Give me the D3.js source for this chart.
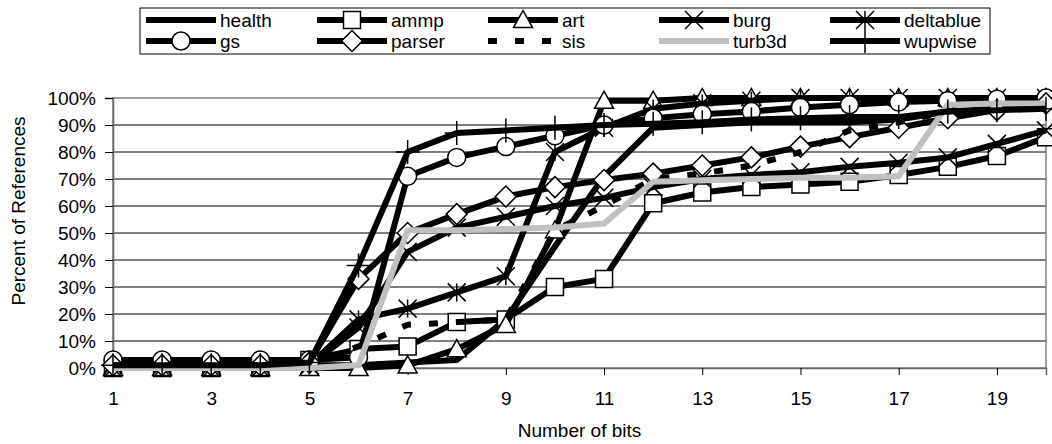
<!DOCTYPE html>
<html>
<head>
<meta charset="utf-8">
<script src="https://cdn.jsdelivr.net/npm/d3@7"></script>
<style>
  body { margin: 0; background: #fff; }
  svg { display: block; font-family: "Liberation Sans", Arial, sans-serif; }
</style>
</head>
<body>
<svg id="chart" width="1052" height="444"></svg>
<script>
// number of bits (x categories)
var bits = [1, 2, 3, 4, 5, 6, 7, 8, 9, 10, 11, 12, 13, 14, 15, 16, 17, 18, 19, 20];
var xTickLabels = [1, 3, 5, 7, 9, 11, 13, 15, 17, 19];
var yTicks = [0, 10, 20, 30, 40, 50, 60, 70, 80, 90, 100];

// percent of references
var health   = [1, 1, 1, 1, 1, 1, 2, 3, 18, 45, 71, 89, 90, 91, 91, 91, 92, 95, 96, 97];
var ammp     = [0, 0, 0, 0, 3, 7, 8, 17, 18, 30, 33, 61, 65, 67, 68, 69, 71.5, 74.5, 78.5, 85.5];
var art      = [0, 0, 0, 0, 0, 0, 1, 7, 16, 51, 99, 99, 100, 100, 100, 100, 100, 100, 100, 100];
var burg     = [0, 0, 0, 0, 1, 15, 43, 52, 56, 60, 63, 67, 70, 71.5, 72.5, 74.5, 76, 78, 83, 88];
var deltablue= [1, 1, 1, 1, 1, 18, 22, 28, 34, 80, 89, 96, 98, 99, 100, 100, 100, 100, 100, 100];
var gs       = [3, 3, 3, 3, 3, 4, 71, 78, 82, 86, 90, 92.5, 94, 95, 96.5, 97.5, 98.5, 99, 99.5, 100];
var parser   = [1, 1, 1, 1, 2, 33, 50, 57, 63.5, 67, 69.6, 72, 75, 78, 82, 85.5, 89, 92.5, 95.5, 98];
var sis      = [1, 1, 1, 1, 1, 8, 16, 17, 18, 51, 60, 70, 72, 75, 80, 88, 91, 95, 97, 98];
var turb3d   = [0, 0, 0, 0, 0, 1, 51, 51, 51.5, 52, 53.5, 69, 69.5, 70, 70.5, 70.5, 71, 97.5, 98, 98];
var wupwise  = [1, 1, 1, 1, 2, 38, 80, 87, 88, 89, 90, 90.5, 91, 92, 92.5, 93, 93, 95, 95.5, 96];

var seriesNames = ["health", "ammp", "art", "burg", "deltablue", "gs", "parser", "sis", "turb3d", "wupwise"];
var seriesValues = [health, ammp, art, burg, deltablue, gs, parser, sis, turb3d, wupwise];
var seriesMarker = ["none", "square", "triangle", "x", "star", "circle", "diamond", "none", "none", "plus"];
var seriesColor = ["#000", "#000", "#000", "#000", "#000", "#000", "#000", "#000", "#c0c0c0", "#000"];
var seriesDash = [null, null, null, null, null, null, null, "9,18", null, null];

var svg = d3.select("#chart");
var plotL = 113, plotR = 1046, plotT = 98, plotB = 368;
var fontSize = 19;

var x = d3.scaleLinear().domain([1, 20]).range([plotL, plotR]);
var y = d3.scaleLinear().domain([0, 100]).range([plotB, plotT]);

// gridlines
svg.append("g").selectAll("line")
    .data(yTicks.filter(function(d){ return d > 0 && d < 100; }))
    .enter().append("line")
    .attr("x1", plotL).attr("x2", plotR)
    .attr("y1", function(d){ return y(d); }).attr("y2", function(d){ return y(d); })
    .attr("stroke", "#000").attr("stroke-width", 1);

// plot border
svg.append("rect")
    .attr("x", plotL).attr("y", plotT)
    .attr("width", plotR - plotL).attr("height", plotB - plotT)
    .attr("fill", "none").attr("stroke", "#808080").attr("stroke-width", 1.5);

// y axis
var yAxis = d3.axisLeft(y).tickValues(yTicks).tickFormat(function(d){ return d + "%"; })
    .tickSize(8).tickPadding(9);
var gy = svg.append("g").attr("transform", "translate(" + plotL + ",0)").call(yAxis);
gy.select(".domain").attr("stroke", "#666").attr("stroke-width", 1.5);
gy.selectAll(".tick line").attr("stroke", "#000");
gy.selectAll("text").attr("font-size", fontSize).attr("fill", "#000").attr("font-family", "Liberation Sans, Arial");

// x axis
var xAxis = d3.axisBottom(x).tickValues(xTickLabels).tickFormat(d3.format("d"))
    .tickSize(7).tickPadding(17);
var gx = svg.append("g").attr("transform", "translate(0," + plotB + ")").call(xAxis);
gx.select(".domain").attr("stroke", "#666").attr("stroke-width", 1.5);
gx.selectAll(".tick line").attr("stroke", "#000");
gx.selectAll("text").attr("font-size", fontSize).attr("fill", "#000").attr("font-family", "Liberation Sans, Arial");

// axis titles
svg.append("text")
    .attr("transform", "translate(25,211) rotate(-90)")
    .attr("text-anchor", "middle").attr("font-size", fontSize)
    .text("Percent of References");
svg.append("text")
    .attr("x", (plotL + plotR) / 2).attr("y", 437)
    .attr("text-anchor", "middle").attr("font-size", fontSize)
    .text("Number of bits");

function markerPath(type, h) {
    if (type == "square") return "M" + (-h) + "," + (-h) + "H" + h + "V" + h + "H" + (-h) + "Z";
    if (type == "triangle") return "M0," + (-h) + "L" + h + "," + (h * 0.8) + "L" + (-h) + "," + (h * 0.8) + "Z";
    if (type == "diamond") return "M0," + (-h) + "L" + h + ",0L0," + h + "L" + (-h) + ",0Z";
    if (type == "x") return "M" + (-h) + "," + (-h) + "L" + h + "," + h + "M" + (-h) + "," + h + "L" + h + "," + (-h);
    if (type == "star") return "M" + (-h) + "," + (-h) + "L" + h + "," + h + "M" + (-h) + "," + h + "L" + h + "," + (-h) + "M0," + (-h) + "L0," + h;
    if (type == "plus") return "M" + (-h) + ",0L" + h + ",0M0," + (-h) + "L0," + h;
    return "";
}
var markerHalf = {square: 8.5, triangle: 9.5, diamond: 10.5, x: 9, star: 9, plus: 12, circle: 9};

function drawMarker(g, type, cx, cy) {
    if (type == "none") return;
    if (type == "circle") {
        g.append("circle").attr("cx", cx).attr("cy", cy).attr("r", markerHalf.circle)
            .attr("fill", "#fff").attr("stroke", "#000").attr("stroke-width", 1.5);
    } else {
        g.append("path").attr("transform", "translate(" + cx + "," + cy + ")")
            .attr("d", markerPath(type, markerHalf[type]))
            .attr("fill", (type == "x" || type == "star" || type == "plus") ? "none" : "#fff")
            .attr("stroke", "#000").attr("stroke-width", 1.5);
    }
}

var line = d3.line()
    .x(function(d, i){ return x(bits[i]); })
    .y(function(d){ return y(d); });

var plot = svg.append("g");
seriesValues.forEach(function(vals, s) {
    var g = plot.append("g").attr("class", "series-" + seriesNames[s]);
    g.append("path").datum(vals)
        .attr("d", line)
        .attr("fill", "none")
        .attr("stroke", seriesColor[s])
        .attr("stroke-width", 6)
        .attr("stroke-linejoin", "round")
        .attr("stroke-dasharray", seriesDash[s]);
    vals.forEach(function(v, i) {
        drawMarker(g, seriesMarker[s], x(bits[i]), y(v));
    });
});

// legend
var legX = 140, legY = 8, legW = 850, legH = 46;
var colStep = 171, rowStep = 21, row0 = legY + 12;
var lg = svg.append("g");
lg.append("rect").attr("x", legX).attr("y", legY).attr("width", legW).attr("height", legH)
    .attr("fill", "#fff").attr("stroke", "#000").attr("stroke-width", 1);
seriesNames.forEach(function(name, s) {
    var col = s % 5, row = Math.floor(s / 5);
    var sx = legX + 6 + col * colStep, sy = row0 + row * rowStep;
    var eg = lg.append("g");
    eg.append("line").attr("x1", sx).attr("x2", sx + 70).attr("y1", sy).attr("y2", sy)
        .attr("stroke", seriesColor[s]).attr("stroke-width", 6)
        .attr("stroke-dasharray", seriesDash[s]);
    drawMarker(eg, seriesMarker[s], sx + 35, sy);
    eg.append("text").attr("x", sx + 74).attr("y", sy).attr("dy", "0.35em")
        .attr("font-size", fontSize).text(name);
});
</script>
</body>
</html>
